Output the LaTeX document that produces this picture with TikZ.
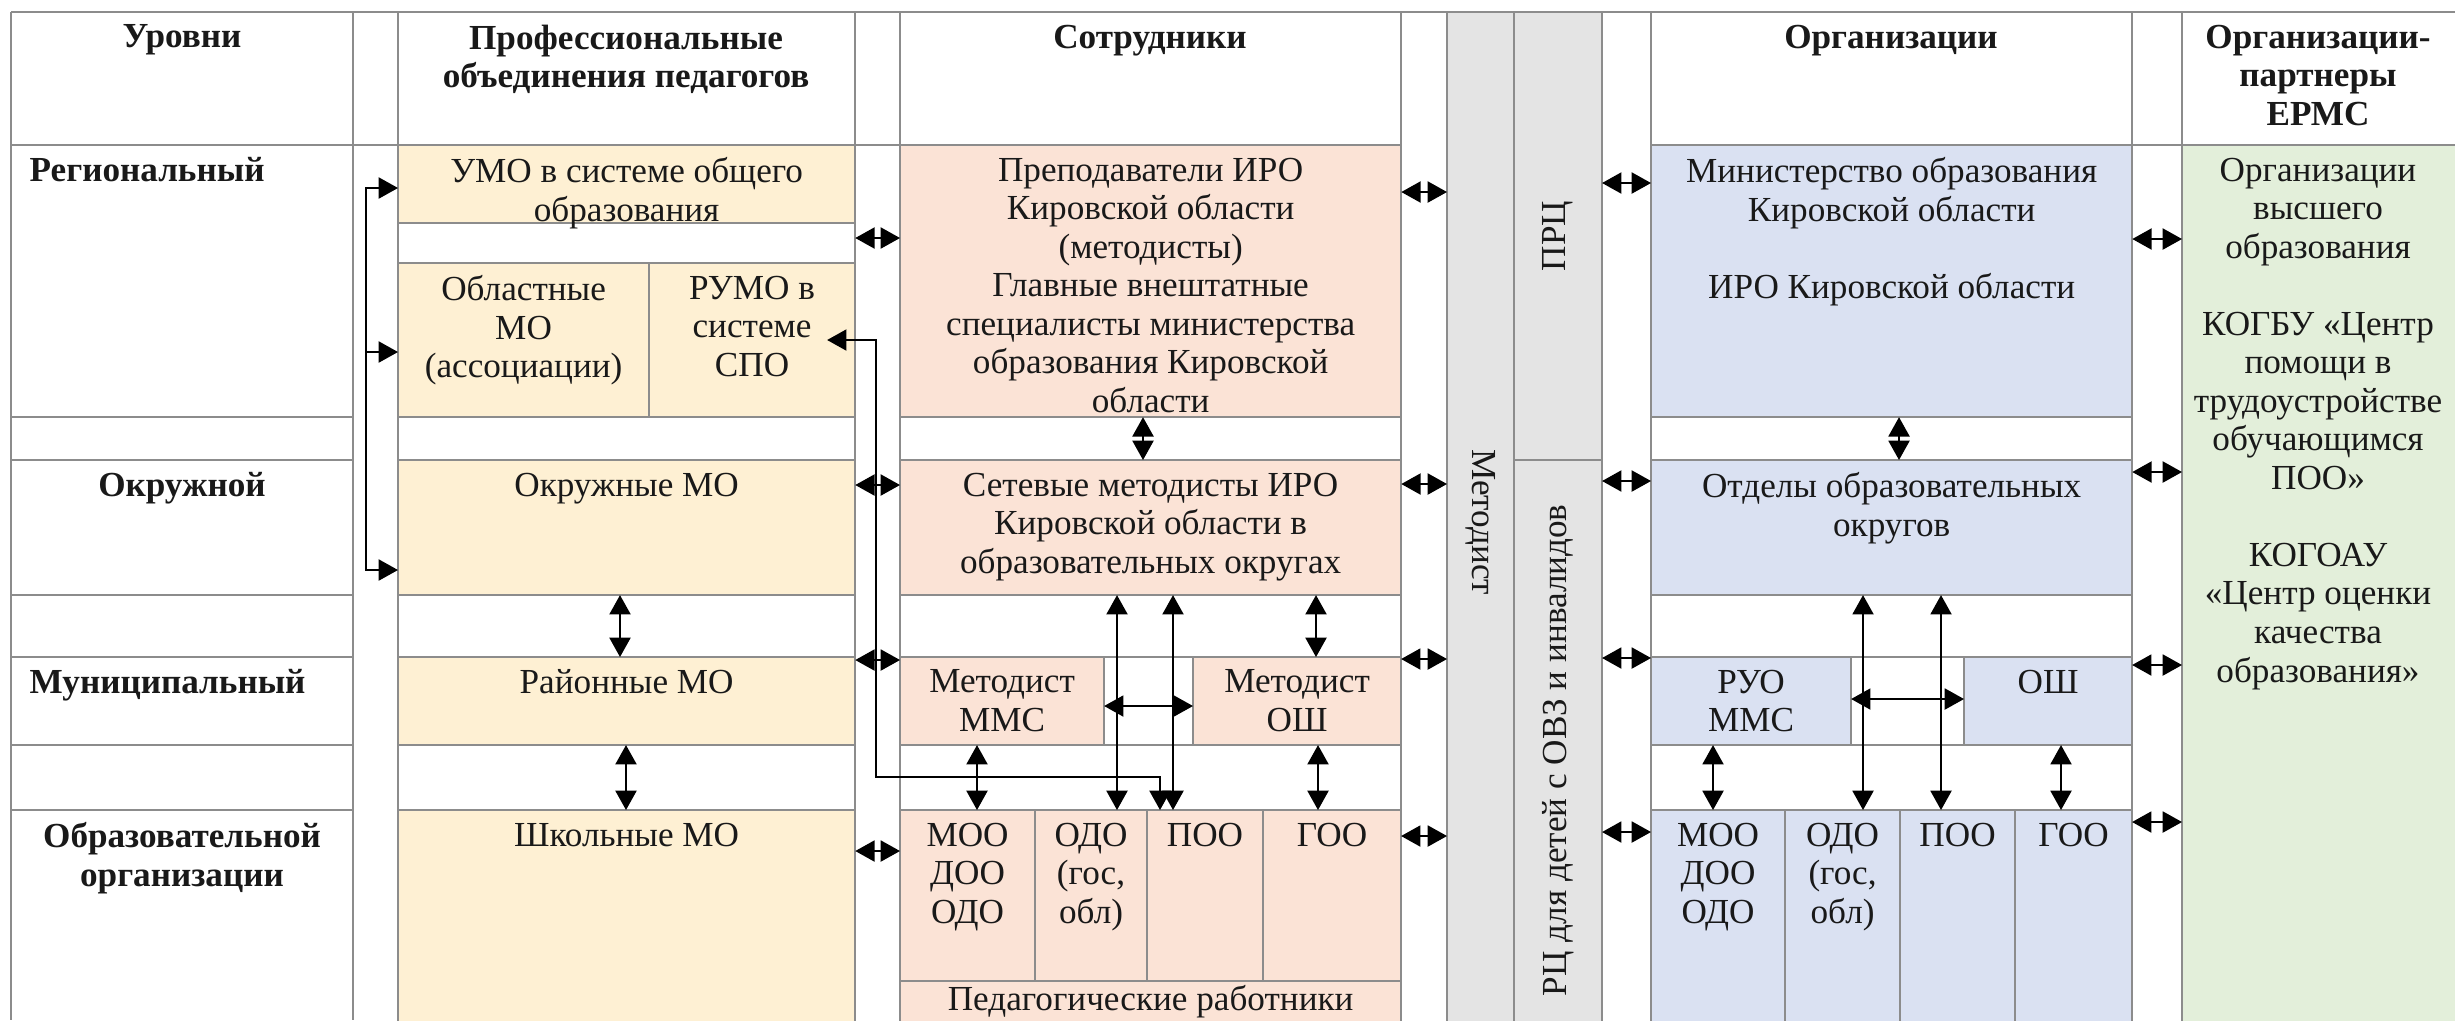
\documentclass[tikz,border=0pt]{standalone}
\usepackage{fontspec}
\setmainfont{Liberation Serif}
\usetikzlibrary{arrows.meta,positioning,calc}

\definecolor{gridc}{HTML}{8C8C8C}
\definecolor{yelc}{HTML}{FEF0D3}
\definecolor{salc}{HTML}{FBE3D6}
\definecolor{bluc}{HTML}{DAE1F2}
\definecolor{grnc}{HTML}{E3EFDA}
\definecolor{grac}{HTML}{E4E4E4}

\tikzset{
  gridline/.style={draw=gridc, line width=0.6pt},
  cellbox/.style={gridline, anchor=north west, inner sep=0pt, outer sep=0pt},
  boxsize/.style 2 args={minimum width=#1cm, minimum height=#2cm},
  txt/.style={align=center, inner sep=0pt, text=black!90, font=\fontsize{10pt}{10.96pt}\selectfont},
  hdr/.style={txt, font=\fontsize{10pt}{10.96pt}\selectfont\bfseries},
  twoway/.style={{Triangle[length=5.5pt,width=6pt]}-{Triangle[length=5.5pt,width=6pt]}, line width=0.5pt},
  oneway/.style={-{Triangle[length=5.5pt,width=6pt]}, line width=0.5pt},
}

\begin{document}
\begin{tikzpicture}[x=0.01cm, y=-0.01cm]
\useasboundingbox (0,0) rectangle (2455,1020);
\clip (0,0) rectangle (2455,1020);

% professional associations
\node[cellbox, fill=yelc, boxsize={4.57}{0.78}] (umo) at (398,145) {};
\node[cellbox, fill=yelc, boxsize={2.51}{1.54}] (obl) at (398,263) {};
\node[cellbox, fill=yelc, boxsize={2.06}{1.54}] (rumo) at (649,263) {};
\node[cellbox, fill=yelc, boxsize={4.57}{1.35}] (okr) at (398,460) {};
\node[cellbox, fill=yelc, boxsize={4.57}{0.88}] (ray) at (398,657) {};
\node[cellbox, fill=yelc, boxsize={4.57}{2.30}] (shk) at (398,810) {};

% staff
\node[cellbox, fill=salc, boxsize={5.01}{2.72}] (pre) at (900,145) {};
\node[cellbox, fill=salc, boxsize={5.01}{1.35}] (set) at (900,460) {};
\node[cellbox, fill=salc, boxsize={2.04}{0.88}] (mmm) at (900,657) {};
\node[cellbox, fill=white, boxsize={0.89}{0.88}] (mid3) at (1104,657) {};
\node[cellbox, fill=salc, boxsize={2.08}{0.88}] (mosh) at (1193,657) {};
\node[cellbox, fill=salc, boxsize={1.35}{1.71}] (moo) at (900,810) {};
\node[cellbox, fill=salc, boxsize={1.12}{1.71}] (odo) at (1035,810) {};
\node[cellbox, fill=salc, boxsize={1.16}{1.71}] (poo) at (1147,810) {};
\node[cellbox, fill=salc, boxsize={1.38}{1.71}] (goo) at (1263,810) {};
\node[cellbox, fill=salc, boxsize={5.01}{0.60}] (ped) at (900,981) {};

% methodist and centres
\node[cellbox, fill=grac, boxsize={0.67}{10.2}] (met) at (1447,12) {};
\node[cellbox, fill=grac, boxsize={0.88}{4.48}] (prc) at (1514,12) {};
\node[cellbox, fill=grac, boxsize={0.88}{5.80}] (rc) at (1514,460) {};

% organisations
\node[cellbox, fill=bluc, boxsize={4.81}{2.72}] (mini) at (1651,145) {};
\node[cellbox, fill=bluc, boxsize={4.81}{1.35}] (otd) at (1651,460) {};
\node[cellbox, fill=bluc, boxsize={2.00}{0.88}] (ruo) at (1651,657) {};
\node[cellbox, fill=white, boxsize={1.13}{0.88}] (mid4) at (1851,657) {};
\node[cellbox, fill=bluc, boxsize={1.68}{0.88}] (osh) at (1964,657) {};
\node[cellbox, fill=bluc, boxsize={1.34}{2.30}] (omoo) at (1651,810) {};
\node[cellbox, fill=bluc, boxsize={1.15}{2.30}] (oodo) at (1785,810) {};
\node[cellbox, fill=bluc, boxsize={1.15}{2.30}] (opoo) at (1900,810) {};
\node[cellbox, fill=bluc, boxsize={1.17}{2.30}] (ogoo) at (2015,810) {};

% partners
\node[cellbox, fill=grnc, boxsize={2.90}{9.00}] (par) at (2182,145) {};

% table lines
\draw[gridline] (11,12) -- (2455,12)
  (11,145) -- (1401,145) (1651,145) -- (2455,145);
\draw[gridline] (11,12) -- (11,1020) (353,12) -- (353,1020)
  (398,12) -- (398,1020) (855,12) -- (855,1020)
  (900,12) -- (900,1020) (1401,12) -- (1401,1020)
  (1602,12) -- (1602,1020) (1651,12) -- (1651,1020)
  (2132,12) -- (2132,1020) (2182,12) -- (2182,1020);
\draw[gridline] (11,417) -- (353,417) (11,460) -- (353,460)
  (11,595) -- (353,595) (11,657) -- (353,657)
  (11,745) -- (353,745) (11,810) -- (353,810);

% headers
\node[hdr, anchor=north] (hlev) at (182,24) {Уровни};
\node[hdr, anchor=north] (hprof) at (626,24) {Профессиональные\\объединения педагогов};
\node[hdr, anchor=north] (hstaff) at (1150,24) {Сотрудники};
\node[hdr, anchor=north] (horg) at (1891,24) {Организации};
\node[hdr, anchor=north] (hpar) at (2318,24) {Организации-\\партнеры\\ЕРМС};

% levels
\node[hdr, anchor=north west] (lreg) at (29,157) {Региональный};
\node[hdr, anchor=north] (lokr) at (182,472) {Окружной};
\node[hdr, anchor=north west] (lmun) at (29,669) {Муниципальный};
\node[hdr, anchor=north] (lobr) at (182,822) {Образовательной\\организации};

% cell texts
\node[txt, below=0.12cm of umo.north] {УМО в системе общего\\образования};
\node[txt, below=0.12cm of obl.north] {Областные\\МО\\(ассоциации)};
\node[txt, below=0.12cm of rumo.north] {РУМО в\\системе\\СПО};
\node[txt, below=0.12cm of okr.north] {Окружные МО};
\node[txt, below=0.12cm of ray.north] {Районные МО};
\node[txt, below=0.12cm of shk.north] {Школьные МО};

\node[txt, below=0.12cm of pre.north] {Преподаватели ИРО\\Кировской области\\(методисты)\\Главные внештатные\\специалисты министерства\\образования Кировской\\области};
\node[txt, below=0.12cm of set.north] {Сетевые методисты ИРО\\Кировской области в\\образовательных округах};
\node[txt, below=0.12cm of mmm.north] {Методист\\ММС};
\node[txt, below=0.12cm of mosh.north] {Методист\\ОШ};
\node[txt, below=0.12cm of moo.north] {МОО\\ДОО\\ОДО};
\node[txt, below=0.12cm of odo.north] {ОДО\\(гос,\\обл)};
\node[txt, below=0.12cm of poo.north] {ПОО};
\node[txt, below=0.12cm of goo.north] {ГОО};
\node[txt, below=0.04cm of ped.north] {Педагогические работники};

\node[txt, rotate=-90] at (met) {Методист};
\node[txt, rotate=90] at (prc) {ПРЦ};
\node[txt, rotate=90] at (rc) {РЦ для детей с ОВЗ и инвалидов};

\node[txt, below=0.12cm of mini.north] {Министерство образования\\Кировской области\\[10.96pt]ИРО Кировской области};
\node[txt, below=0.12cm of otd.north] {Отделы образовательных\\округов};
\node[txt, below=0.12cm of ruo.north] {РУО\\ММС};
\node[txt, below=0.12cm of osh.north] {ОШ};
\node[txt, below=0.12cm of omoo.north] {МОО\\ДОО\\ОДО};
\node[txt, below=0.12cm of oodo.north] {ОДО\\(гос,\\обл)};
\node[txt, below=0.12cm of opoo.north] {ПОО};
\node[txt, below=0.12cm of ogoo.north] {ГОО};

\coordinate (partop) at (2318,145);
\node[txt, below=0.12cm of partop] {Организации\\высшего\\образования\\[10.96pt]КОГБУ «Центр\\помощи в\\трудоустройстве\\обучающимся\\ПОО»\\[10.96pt]КОГОАУ\\«Центр оценки\\качества\\образования»};

% links on the left
\coordinate (brk) at (366,352);
\coordinate (brkb) at (366,570);
\draw[twoway] (umo.west |- 0,188) -| (brkb) -- (okr.west |- brkb);
\draw[oneway] (brk) -- (obl.west |- brk);
\coordinate (rumoc) at (876,777);
\draw[twoway] ($(rumo.east |- 0,340)+(-28,0)$) -| (rumoc) -| (poo.north -| 1160,0);

% horizontal links
\draw[twoway] (umo.east |- 0,238) -- (pre.west |- 0,238);
\draw[twoway] (okr.east |- 0,485) -- (set.west |- 0,485);
\draw[twoway] (ray.east |- 0,660) -- (mmm.west |- 0,660);
\draw[twoway] (shk.east |- 0,851) -- (moo.west |- 0,851);
\draw[twoway] (pre.east |- 0,192) -- (met.west |- 0,192);
\draw[twoway] (set.east |- 0,484) -- (met.west |- 0,484);
\draw[twoway] (mosh.east |- 0,659) -- (met.west |- 0,659);
\draw[twoway] (goo.east |- 0,836) -- (met.west |- 0,836);
\draw[twoway] (prc.east |- 0,183) -- (mini.west |- 0,183);
\draw[twoway] (rc.east |- 0,481) -- (otd.west |- 0,481);
\draw[twoway] (rc.east |- 0,658) -- (ruo.west |- 0,658);
\draw[twoway] (rc.east |- 0,832) -- (omoo.west |- 0,832);
\draw[twoway] (mini.east |- 0,239) -- (par.west |- 0,239);
\draw[twoway] (otd.east |- 0,472) -- (par.west |- 0,472);
\draw[twoway] (osh.east |- 0,665) -- (par.west |- 0,665);
\draw[twoway] (ogoo.east |- 0,822) -- (par.west |- 0,822);
\draw[twoway] (mmm.east |- 0,706) -- (mosh.west |- 0,706);
\draw[twoway] (ruo.east |- 0,699) -- (osh.west |- 0,699);

% vertical links
\draw[twoway] (okr.south -| 620,0) -- (ray.north -| 620,0);
\draw[twoway] (ray.south -| 626,0) -- (shk.north -| 626,0);
\draw[twoway] (pre.south -| 1143,0) -- (set.north -| 1143,0);
\draw[twoway] (set.south -| 1117,0) -- (odo.north -| 1117,0);
\draw[twoway] (set.south -| 1173,0) -- (poo.north -| 1173,0);
\draw[twoway] (set.south -| 1316,0) -- (mosh.north -| 1316,0);
\draw[twoway] (mmm.south -| 977,0) -- (moo.north -| 977,0);
\draw[twoway] (mosh.south -| 1318,0) -- (goo.north -| 1318,0);
\draw[twoway] (mini.south -| 1899,0) -- (otd.north -| 1899,0);
\draw[twoway] (otd.south -| 1863,0) -- (oodo.north -| 1863,0);
\draw[twoway] (otd.south -| 1941,0) -- (opoo.north -| 1941,0);
\draw[twoway] (ruo.south -| 1713,0) -- (omoo.north -| 1713,0);
\draw[twoway] (osh.south -| 2061,0) -- (ogoo.north -| 2061,0);
\end{tikzpicture}
\end{document}
